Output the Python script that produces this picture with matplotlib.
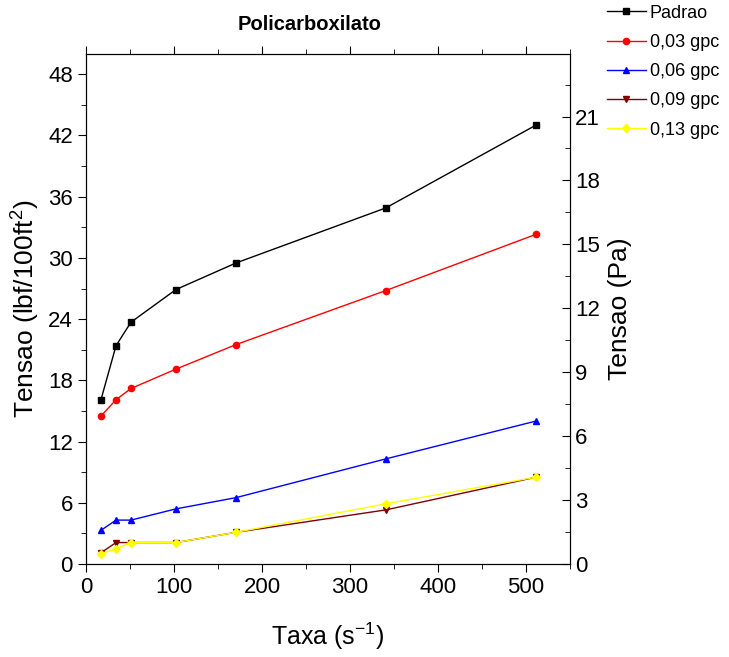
import matplotlib.pyplot as plt
from matplotlib.ticker import MultipleLocator

plt.rcParams['font.family'] = ['Liberation Sans', 'DejaVu Sans']
plt.rcParams['mathtext.default'] = 'regular'

# taxa de cisalhamento (s^-1)
taxa = [17.0, 34.1, 51.1, 102.2, 170.3, 340.6, 510.9]

# tensao (lbf/100ft2)
padrao = [16.1, 21.4, 23.7, 26.9, 29.5, 34.9, 43.0]
gpc_003 = [14.5, 16.1, 17.2, 19.1, 21.5, 26.8, 32.3]
gpc_006 = [3.3, 4.3, 4.3, 5.4, 6.5, 10.3, 14.0]
gpc_009 = [1.1, 2.1, 2.1, 2.1, 3.1, 5.3, 8.5]
gpc_013 = [1.0, 1.5, 2.1, 2.1, 3.1, 5.9, 8.5]

series = [
    (padrao, 'Padrao', 'black', 's', 4.3),
    (gpc_003, '0,03 gpc', '#ff0000', 'o', 4.5),
    (gpc_006, '0,06 gpc', '#0000ff', '^', 5.0),
    (gpc_009, '0,09 gpc', '#800000', 'v', 5.0),
    (gpc_013, '0,13 gpc', '#ffff00', 'D', 4.0),
]

fator_pa = 0.4788  # 1 lbf/100ft2 = 0.4788 Pa
ytop = 50.0

fig = plt.figure(figsize=(7.29, 6.57), dpi=100)
ax = fig.add_axes([0.118, 0.1416, 0.664, 0.7764])

for vals, nome, cor, mk, ms in series:
    ax.plot(taxa, vals, color=cor, marker=mk, markersize=ms, linewidth=1.0, label=nome)

ax.set_xlim(0, 550)
ax.set_ylim(0, ytop)
ax.xaxis.set_major_locator(MultipleLocator(100))
ax.xaxis.set_minor_locator(MultipleLocator(50))
ax.yaxis.set_major_locator(MultipleLocator(6))
ax.yaxis.set_minor_locator(MultipleLocator(3))
ax.tick_params(axis='both', which='major', labelsize=16, length=6, direction='out')
ax.tick_params(axis='both', which='minor', length=3.5, direction='out')
ax.tick_params(top=True, which='both')
ax.set_xlabel('Taxa (s$^{-1}$)', fontsize=18, labelpad=16)
ax.set_ylabel('Tensao (lbf/100ft$^{2}$)', fontsize=19, labelpad=4)

ax2 = ax.twinx()
ax2.set_ylim(0, ytop * fator_pa)
ax2.yaxis.set_major_locator(MultipleLocator(3))
ax2.yaxis.set_minor_locator(MultipleLocator(1.5))
ax2.tick_params(axis='y', which='major', labelsize=16, length=6, direction='in')
ax2.tick_params(axis='y', which='minor', length=3.5, direction='in')
ax2.set_ylabel('Tensao (Pa)', fontsize=19, labelpad=6)

fig.text(0.425, 0.962, 'Policarboxilato', fontsize=14.5, fontweight='bold', ha='center', va='center')

ax.legend(loc='upper left', bbox_to_anchor=(0.832, 0.993), bbox_transform=fig.transFigure,
          frameon=False, fontsize=13, handlelength=2.2, handletextpad=0.2,
          labelspacing=0.68, borderaxespad=0.0, borderpad=0.0)

fig.savefig('out.png', dpi=100)
